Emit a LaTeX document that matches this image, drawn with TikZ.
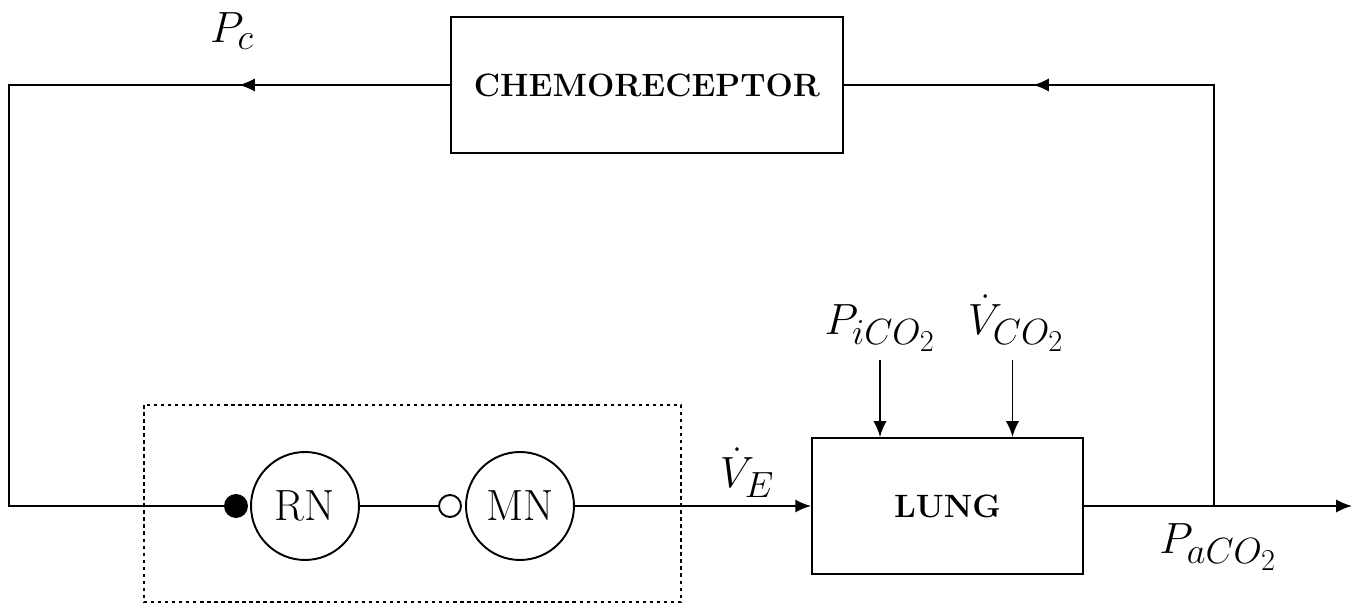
\documentclass[tikz,border=0pt]{standalone}
\usepackage{tikz}
\usetikzlibrary{arrows.meta,decorations.markings,positioning,calc}

\tikzset{
  block/.style={draw,inner sep=0pt,font=\fontsize{18.4}{21}\selectfont\bfseries},
  neuron/.style={draw,circle,minimum size=2.16cm,inner sep=0pt,font=\Huge},
  synapse/.style={draw,circle,minimum size=0.44cm,inner sep=0pt},
  sig/.style={font=\Huge,inner sep=0pt,anchor=base},
  midarrow/.style={postaction={decorate},
    decoration={markings,mark=at position #1 with {\arrow{Latex[length=9pt,width=7.5pt]}}}}
}

\begin{document}
\begin{tikzpicture}[x=0.02cm,y=-0.02cm,line width=1.1pt,
    >={Latex[length=9pt,width=7.5pt]}]
  \useasboundingbox (0,0) rectangle (1357,604);
  \node[block,minimum width=7.84cm,minimum height=2.72cm] (chemo) at (647,85) {CHEMORECEPTOR};
  \node[block,minimum width=5.42cm,minimum height=2.72cm] (lung) at (947.5,506) {LUNG};
  \node[neuron] (rn) at (305,506) {RN};
  \node[neuron] (mn) at (520,506) {MN};
  \node[synapse,fill=black] (exc) at (236,506) {};
  \node[synapse,fill=white] (inh) at (450,506) {};
  \draw[dash pattern=on 2pt off 2pt,line width=0.7pt] (144,405) rectangle (681,602);
  \coordinate (bl) at (9,506);
  \coordinate (tap) at (1214,506);
  \coordinate (out) at (1352,506);
  \coordinate (intop) at (0,360);
  \draw[midarrow=0.196] (chemo.west) -| (bl) -- (exc);
  \draw[midarrow=0.761] (tap) |- (chemo.east);
  \draw (rn) -- (inh);
  \draw[->] (mn) -- (lung);
  \draw[->] (lung) -- (out);
  \node[sig] (pc) at (232,43) {$P_c$};
  \node[sig] (ve) at (747,488) {$\dot V_E$};
  \node[sig] (pi) at (880,335) {$P_{iCO_2}$};
  \node[sig] (vco) at (1016,335) {$\dot V_{CO_2}$};
  \node[sig] (pa) at (1218,554) {$P_{aCO_2}$};
  \draw[->] (pi |- intop) -- (pi |- lung.north);
  \draw[->] ([xshift=-2pt]vco |- intop) -- ([xshift=-2pt]vco |- lung.north);
\end{tikzpicture}
\end{document}
